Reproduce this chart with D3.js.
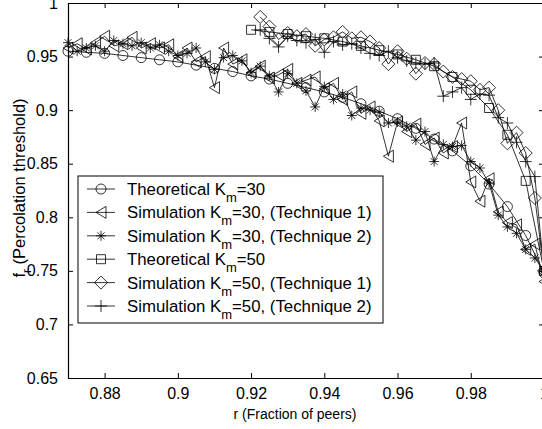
<!DOCTYPE html>
<html>
<head>
<meta charset="utf-8">
<script src="https://cdn.jsdelivr.net/npm/d3@7"></script>
<style>
  body { margin: 0; background: #fff; }
  svg { display: block; font-family: "Liberation Sans", Arial, sans-serif; }
</style>
</head>
<body>
<div id="chart"></div>
<script>
//######################## Data ##############################

// x grid of the theoretical K_m=30 curve (step 0.005)
var xTheo30 = [0.87,0.875,0.88,0.885,0.89,0.895,0.90,0.905,0.91,0.915,0.92,0.925,0.93,0.935,0.94,
               0.945,0.95,0.955,0.96,0.965,0.97,0.975,0.98,0.985,0.99,0.995,1.0];
var yTheo30 = [0.955,0.954,0.953,0.951,0.949,0.947,0.945,0.942,0.939,0.936,0.932,0.929,0.925,0.921,0.917,
               0.912,0.906,0.899,0.892,0.883,0.873,0.862,0.848,0.831,0.810,0.783,0.748];

// x grid of the K_m=30 simulations (step 0.0025)
var xSim30 = [0.87,0.8725,0.875,0.8775,0.88,0.8825,0.885,0.8875,0.89,0.8925,0.895,0.8975,0.90,0.9025,0.905,0.9075,
              0.91,0.9125,0.915,0.9175,0.92,0.9225,0.925,0.9275,0.93,0.9325,0.935,0.9375,0.94,0.9425,0.945,0.9475,
              0.95,0.9525,0.955,0.9575,0.96,0.9625,0.965,0.9675,0.97,0.9725,0.975,0.9775,0.98,0.9825,0.985,0.9875,
              0.99,0.9925,0.995,0.9975,1.0];
var ySim30t1 = [0.958,0.962,0.957,0.963,0.969,0.960,0.962,0.968,0.958,0.962,0.958,0.961,0.950,0.958,0.945,0.950,
                0.921,0.958,0.943,0.947,0.935,0.941,0.930,0.933,0.938,0.925,0.928,0.931,0.920,0.925,0.910,0.917,
                0.897,0.903,0.890,0.857,0.889,0.880,0.887,0.868,0.874,0.860,0.866,0.888,0.833,0.815,0.836,0.805,
                0.795,0.793,0.770,0.775,0.740];
var ySim30t2 = [0.963,0.955,0.958,0.960,0.955,0.965,0.962,0.960,0.963,0.958,0.961,0.955,0.951,0.953,0.958,0.945,
                0.938,0.949,0.951,0.946,0.935,0.941,0.932,0.917,0.934,0.925,0.918,0.903,0.922,0.910,0.915,0.895,
                0.902,0.900,0.898,0.888,0.889,0.885,0.872,0.880,0.852,0.868,0.866,0.867,0.852,0.846,0.832,0.802,
                0.791,0.785,0.770,0.762,0.749];

// x grid of the theoretical K_m=50 curve (step 0.005)
var xTheo50 = [0.92,0.925,0.93,0.935,0.94,0.945,0.95,0.955,0.96,0.965,0.97,0.975,0.98,0.985,0.99,0.995,1.0];
var yTheo50 = [0.975,0.973,0.971,0.969,0.967,0.964,0.960,0.956,0.952,0.947,0.941,0.931,0.919,0.902,0.877,0.834,0.750];

// x grid of the K_m=50 simulations (step 0.0025)
var xSim50 = [0.9225,0.925,0.9275,0.93,0.9325,0.935,0.9375,0.94,0.9425,0.945,0.9475,0.95,0.9525,0.955,0.9575,0.96,
              0.9625,0.965,0.9675,0.97,0.9725,0.975,0.9775,0.98,0.9825,0.985,0.9875,0.99,0.9925,0.995,0.9975,1.0];
var ySim50t1 = [0.987,0.978,0.966,0.972,0.969,0.971,0.960,0.966,0.968,0.973,0.967,0.968,0.964,0.958,0.943,0.955,
                0.948,0.934,0.944,0.943,0.936,0.931,0.929,0.927,0.919,0.921,0.900,0.869,0.879,0.860,0.818,0.750];
var ySim50t2 = [0.975,0.967,0.959,0.969,0.965,0.963,0.966,0.954,0.964,0.961,0.962,0.958,0.953,0.951,0.955,0.949,
                0.946,0.944,0.943,0.944,0.913,0.917,0.921,0.910,0.915,0.914,0.893,0.888,0.870,0.852,0.838,0.750];

var xTicks = [0.88,0.9,0.92,0.94,0.96,0.98,1];
var yTicks = [0.65,0.7,0.75,0.8,0.85,0.9,0.95,1];

var seriesNames = ["Theoretical K|=30", "Simulation K|=30, (Technique 1)", "Simulation K|=30, (Technique 2)",
                   "Theoretical K|=50", "Simulation K|=50, (Technique 1)", "Simulation K|=50, (Technique 2)"];
var seriesMarkers = ["circle","triangleLeft","star","square","diamond","plus"];

//######################## Marker shapes ##############################

function markerPath(type){
	switch(type){
		case "circle": return "M5,0A5,5 0 1,1 -5,0A5,5 0 1,1 5,0Z";
		case "triangleLeft": return "M-5,0L5,-6L5,6Z";
		case "star": return "M-5,0L5,0M0,-5L0,5M-3.5,-3.5L3.5,3.5M-3.5,3.5L3.5,-3.5";
		case "square": return "M-4.5,-4.5L4.5,-4.5L4.5,4.5L-4.5,4.5Z";
		case "diamond": return "M0,-6.5L6.5,0L0,6.5L-6.5,0Z";
		case "plus": return "M-6,0L6,0M0,-6L0,6";
	}
}

//######################## Chart ##############################

var width = 542;
var height = 429;
var plotLeft = 68, plotRight = 544, plotTop = 3, plotBottom = 378;

var svg = d3.select("#chart").append("svg")
			.attr("width",width)
			.attr("height",height);

var xscale = d3.scaleLinear().domain([0.87,1.0]).range([plotLeft,plotRight]);
var yscale = d3.scaleLinear().domain([0.65,1.0]).range([plotBottom,plotTop]);

var series = [
	{x: xTheo30, y: yTheo30},
	{x: xSim30, y: ySim30t1},
	{x: xSim30, y: ySim30t2},
	{x: xTheo50, y: yTheo50},
	{x: xSim50, y: ySim50t1},
	{x: xSim50, y: ySim50t2}
];

var line = d3.line()
	.x(function(d) { return xscale(d[0]); })
	.y(function(d) { return yscale(d[1]); });

series.forEach(function(s, i){
	var pts = s.x.map(function(v, k) { return [v, s.y[k]]; });
	svg.append("path")
		.attr("d", line(pts))
		.attr("fill","none")
		.attr("stroke","#000")
		.attr("stroke-width",0.8);
	svg.append("g").selectAll("path")
		.data(pts).enter().append("path")
			.attr("transform", function(d) { return "translate(" + xscale(d[0]) + "," + yscale(d[1]) + ")"; })
			.attr("d", markerPath(seriesMarkers[i]))
			.attr("fill","none")
			.attr("stroke","#000")
			.attr("stroke-width",0.8);
});

// axes (MATLAB style box, ticks pointing inward)
var xaxis = d3.axisBottom(xscale).tickValues(xTicks).tickSizeInner(-5).tickSizeOuter(0).tickPadding(10)
	.tickFormat(function(d) { return +d.toFixed(2); });
var yaxis = d3.axisLeft(yscale).tickValues(yTicks).tickSizeInner(-5).tickSizeOuter(0).tickPadding(10)
	.tickFormat(function(d) { return +d.toFixed(2); });
var xaxisTop = d3.axisTop(xscale).tickValues(xTicks).tickSizeInner(-5).tickSizeOuter(0).tickFormat("");
var yaxisRight = d3.axisRight(yscale).tickValues(yTicks).tickSizeInner(-5).tickSizeOuter(0).tickFormat("");

svg.append("g").attr("class","xaxis").attr("transform","translate(0,"+plotBottom+")").call(xaxis);
svg.append("g").attr("class","yaxis").attr("transform","translate("+plotLeft+",0)").call(yaxis);
svg.append("g").attr("transform","translate(0,"+plotTop+")").call(xaxisTop);
svg.append("g").attr("transform","translate("+plotRight+",0)").call(yaxisRight);

svg.selectAll(".domain").attr("stroke","#000").attr("stroke-width",1.2);
svg.selectAll(".tick line").attr("stroke","#000");
svg.selectAll(".tick text").attr("fill","#000").style("font-size","16px")
	.style("font-family","'Liberation Sans', Arial, sans-serif");

// axis labels
svg.append("text")
	.attr("x",295)
	.attr("y",419)
	.attr("text-anchor","middle")
	.style("font-size","14px")
	.text("r (Fraction of peers)");

var ylab = svg.append("text")
	.attr("transform","translate(25,188) rotate(-90)")
	.attr("text-anchor","middle")
	.style("font-size","16.5px");
ylab.append("tspan").text("f");
ylab.append("tspan").attr("dy",6).style("font-size","12px").text("r");
ylab.append("tspan").attr("dy",-6).text(" (Percolation threshold)");

// legend
var legX = 78, legY = 176, legW = 305, legH = 147, rowH = 23.4;
var legend = svg.append("g");
legend.append("rect")
	.attr("x",legX).attr("y",legY).attr("width",legW).attr("height",legH)
	.attr("fill","#fff").attr("stroke","#000").attr("stroke-width",1);

seriesNames.forEach(function(name, i){
	var cy = legY + 13 + i*rowH;
	legend.append("line")
		.attr("x1",87).attr("x2",115).attr("y1",cy).attr("y2",cy)
		.attr("stroke","#000").attr("stroke-width",0.8);
	legend.append("path")
		.attr("transform","translate(101,"+cy+")")
		.attr("d",markerPath(seriesMarkers[i]))
		.attr("fill","none").attr("stroke","#000").attr("stroke-width",0.8);
	var parts = name.split("|");
	var t = legend.append("text").attr("x",127).attr("y",cy+6).style("font-size","16.8px");
	t.append("tspan").text(parts[0]);
	t.append("tspan").attr("dy",7).style("font-size","13px").text("m");
	t.append("tspan").attr("dy",-7).text(parts[1]);
});
</script>
</body>
</html>
